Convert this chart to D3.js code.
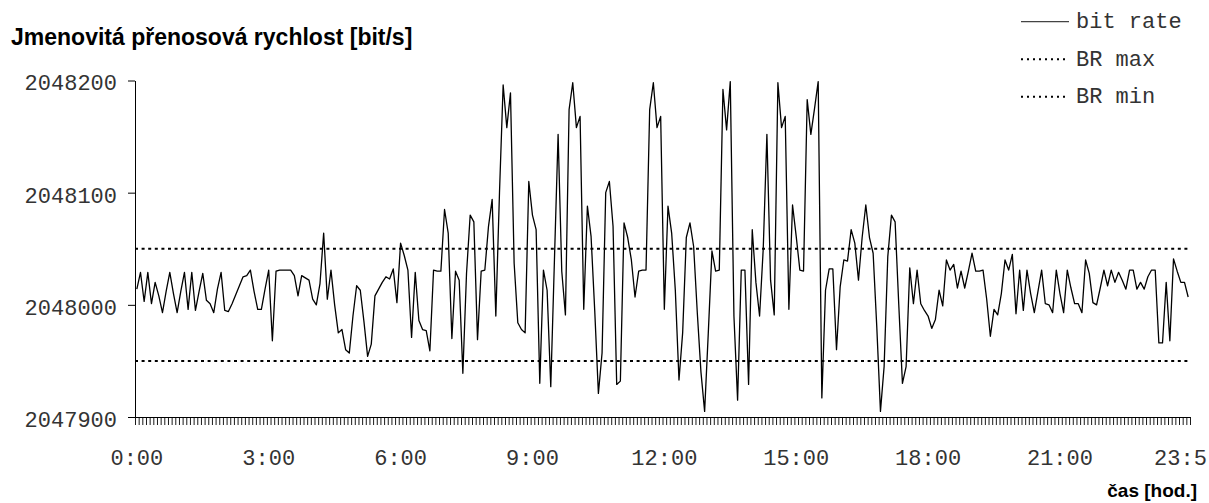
<!DOCTYPE html>
<html>
<head>
<meta charset="utf-8">
<script src="https://cdn.jsdelivr.net/npm/d3@7"></script>
<style>
  body { margin: 0; background: #fff; }
</style>
</head>
<body>
<div id="chart"></div>
<script>
// bit rate sampled every 5 minutes, 0:00 .. 23:55
const times = d3.range(0, 24 * 60, 5).map(function (m) {
    return Math.floor(m / 60) + ":" + String(m % 60).padStart(2, "0");
});

const bitRate = [
    2048014, 2048029, 2048003, 2048029, 2048001, 2048020, 2048008, 2047993, 2048012, 2048029,
    2048010, 2047993, 2048012, 2048029, 2047996, 2048029, 2047995, 2048012, 2048028, 2048004,
    2048001, 2047993, 2048014, 2048029, 2047995, 2047994, 2048001, 2048009, 2048017, 2048025,
    2048026, 2048031, 2048012, 2047996, 2047996, 2048014, 2048031, 2047968, 2048030, 2048031,
    2048031, 2048031, 2048031, 2048026, 2048008, 2048026, 2048024, 2048022, 2048005, 2048000,
    2048019, 2048064, 2048005, 2048031, 2048000, 2047975, 2047978, 2047960, 2047957, 2047990,
    2048017, 2048013, 2047985, 2047954, 2047965, 2048008, 2048014, 2048020, 2048025, 2048023,
    2048032, 2048002, 2048055, 2048044, 2048031, 2047971, 2048029, 2047986, 2047978, 2047977,
    2047959, 2048031, 2048030, 2048030, 2048085, 2048064, 2047970, 2048030, 2048022, 2047939,
    2048028, 2048080, 2048074, 2047969, 2048030, 2048031, 2048070, 2048094, 2047990, 2048100,
    2048196, 2048158, 2048189, 2048037, 2047984, 2047978, 2047975, 2048110, 2048080, 2048067,
    2047930, 2048031, 2048013, 2047927, 2048040, 2048152, 2048030, 2047991, 2048174, 2048198,
    2048158, 2048168, 2047996, 2048088, 2048061, 2047995, 2047921, 2047957, 2048100, 2048110,
    2048070, 2047929, 2047932, 2048073, 2048060, 2048040, 2048007, 2048030, 2048031, 2048031,
    2048174, 2048198, 2048158, 2048168, 2047996, 2048088, 2048064, 2048013, 2047933, 2047975,
    2048060, 2048073, 2048052, 2047993, 2047940, 2047905, 2047975, 2048048, 2048030, 2048031,
    2048192, 2048156, 2048199, 2047990, 2047915, 2048031, 2048031, 2047929, 2048067, 2048020,
    2047990, 2048050, 2048152, 2048022, 2047991, 2048198, 2048158, 2048168, 2047996, 2048089,
    2048061, 2048031, 2048030, 2048183, 2048152, 2048175, 2048199, 2047917, 2048013, 2048032,
    2048032, 2047960, 2048016, 2048040, 2048039, 2048067, 2048055, 2048022, 2048060, 2048089,
    2048060, 2048046, 2047980, 2047905, 2047945, 2048043, 2048080, 2048074, 2048000, 2047930,
    2047945, 2048033, 2048001, 2048031, 2048001, 2047995, 2047990, 2047979, 2047987, 2048013,
    2047999, 2048040, 2048031, 2048036, 2048015, 2048030, 2048015, 2048030, 2048046, 2048030,
    2048030, 2048031, 2048005, 2047972, 2047996, 2047991, 2048010, 2048040, 2048031, 2048045,
    2047992, 2048031, 2047995, 2048031, 2048010, 2047993, 2048012, 2048031, 2048001, 2048000,
    2047993, 2048031, 2048010, 2047993, 2048031, 2048015, 2048001, 2048001, 2047993, 2048040,
    2048028, 2048002, 2048000, 2048015, 2048031, 2048017, 2048031, 2048020, 2048029, 2048022,
    2048014, 2048031, 2048031, 2048014, 2048020, 2048014, 2048025, 2048031, 2048031, 2047966,
    2047966, 2048020, 2047968, 2048041, 2048030, 2048020, 2048020, 2048007
];

const brMax = 2048050;
const brMin = 2047950;

const yTicks = [2047900, 2048000, 2048100, 2048200];
const xTickCats = ["0:00", "3:00", "6:00", "9:00", "12:00", "15:00", "18:00", "21:00", "23:50"];
const xTickLabels = ["0:00", "3:00", "6:00", "9:00", "12:00", "15:00", "18:00", "21:00", "23:5"];

const legendItems = ["bit rate", "BR max", "BR min"];

const monoFont = "'Liberation Mono', 'Courier New', monospace";
const sansFont = "'Liberation Sans', Arial, sans-serif";

let svg = d3.select("#chart")
    .append("svg")
    .attr("width", 1209)
    .attr("height", 503);

let x = d3.scaleBand()
    .domain(times)
    .range([135, 1190]);

let xMid = function (t) { return x(t) + x.bandwidth() / 2; };

// index scale for the small ticks between categories
let xIdx = d3.scaleLinear()
    .domain([0, times.length])
    .range([135, 1190]);

let y = d3.scaleLinear()
    .domain([2047900, 2048200])
    .range([417, 80.5]);

// y axis
let yAxis = svg.append("g")
    .attr("transform", "translate(135,0)")
    .call(d3.axisLeft(y).tickValues(yTicks).tickSize(7).tickSizeOuter(0).tickPadding(11).tickFormat(d3.format("d")));
yAxis.select(".domain").attr("stroke", "#000");
yAxis.selectAll(".tick line").attr("stroke", "#000");
yAxis.selectAll("text")
    .attr("dy", "0.43em")
    .style("font-family", monoFont)
    .style("font-size", "22px")
    .attr("fill", "#333");

// x axis with a tick between each 5 minute category
let xAxis = svg.append("g")
    .attr("transform", "translate(0,417)")
    .call(d3.axisBottom(xIdx).tickValues(d3.range(times.length + 1)).tickSize(8).tickSizeOuter(0).tickFormat(""));
xAxis.select(".domain").attr("stroke", "#000");
xAxis.selectAll(".tick line").attr("stroke", "#000").attr("stroke-width", 0.9);

// x labels
let xLab = svg.append("g")
    .attr("transform", "translate(0,417)")
    .call(d3.axisBottom(x).tickValues(xTickCats).tickSize(0)
        .tickFormat(function (d, i) { return xTickLabels[i]; }));
xLab.select(".domain").remove();
xLab.selectAll("text")
    .attr("y", 48)
    .attr("dy", 0)
    .attr("dx", function (d, i) { return i === xTickCats.length - 1 ? -4 : 0; })
    .style("font-family", monoFont)
    .style("font-size", "22px")
    .attr("fill", "#333");

// BR max / BR min
svg.selectAll(".limit")
    .data([brMax, brMin])
    .enter()
    .append("line")
    .attr("class", "limit")
    .attr("x1", 135)
    .attr("x2", 1190)
    .attr("y1", function (d) { return y(d); })
    .attr("y2", function (d) { return y(d); })
    .attr("stroke", "#000")
    .attr("stroke-width", 2)
    .attr("stroke-dasharray", "3,3.6");

// bit rate line
let line = d3.line()
    .x(function (d) { return xMid(d.t); })
    .y(function (d) { return y(d.v); });

let pts = times.map(function (t, i) { return { t: t, v: bitRate[i] }; });

svg.append("path")
    .datum(pts)
    .attr("d", line)
    .attr("fill", "none")
    .attr("stroke", "#000")
    .attr("stroke-width", 1.3)
    .attr("stroke-linejoin", "round");

// title and axis name
svg.append("text")
    .attr("x", 11)
    .attr("y", 45)
    .style("font-family", sansFont)
    .style("font-weight", "bold")
    .style("font-size", "23px")
    .text("Jmenovitá přenosová rychlost [bit/s]");

svg.append("text")
    .attr("x", 1197)
    .attr("y", 497)
    .attr("text-anchor", "end")
    .style("font-family", sansFont)
    .style("font-weight", "bold")
    .style("font-size", "19px")
    .text("čas [hod.]");

// legend
let legend = svg.selectAll(".legend")
    .data(legendItems)
    .enter()
    .append("g")
    .attr("class", "legend")
    .attr("transform", function (d, i) { return "translate(1021," + (21.7 + i * 37.5) + ")"; });

legend.append("line")
    .attr("x1", 0)
    .attr("x2", 48)
    .attr("stroke", function (d, i) { return i === 0 ? "#444" : "#000"; })
    .attr("stroke-width", function (d, i) { return i === 0 ? 1.3 : 2; })
    .attr("stroke-dasharray", function (d, i) { return i === 0 ? null : "2,4"; });

legend.append("text")
    .attr("x", 55)
    .attr("y", 6.5)
    .style("font-family", monoFont)
    .style("font-size", "22px")
    .attr("fill", "#333")
    .text(function (d) { return d; });
</script>
</body>
</html>
